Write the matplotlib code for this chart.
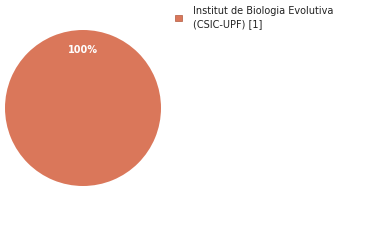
import matplotlib
matplotlib.use("Agg")
import matplotlib.pyplot as plt
from matplotlib.patches import Patch

labels = ["Institut de Biologia Evolutiva\n(CSIC-UPF) [1]"]
values = [1]
colors = ["#da775a"]

fig = plt.figure(figsize=(3.8, 2.4), dpi=100)
ax = fig.add_axes([5 / 380, 54 / 240, 156 / 380, 156 / 240])
wedges, texts, autotexts = ax.pie(values, colors=colors, startangle=-90,
                                  autopct="%1.0f%%", pctdistance=0.74,
                                  wedgeprops=dict(linewidth=0))
for t in autotexts:
    t.set_color("white")
    t.set_fontsize(7)
    t.set_fontweight("bold")
ax.set_xlim(-1, 1)
ax.set_ylim(-1, 1)
ax.set_aspect("equal")

handles = [Patch(facecolor=c, edgecolor="#b05a40", linewidth=0.5) for c in colors]
leg = fig.legend(handles, labels, loc="upper left", bbox_to_anchor=(168 / 380, 1 + 1 / 240),
                 frameon=False, fontsize=7, handlelength=0.7, handleheight=0.7,
                 handletextpad=1.2, borderpad=0.2, labelspacing=0.2, labelcolor="#222222")
for t in leg.get_texts():
    t.set_linespacing(1.4)

fig.savefig("out.png", dpi=100)
